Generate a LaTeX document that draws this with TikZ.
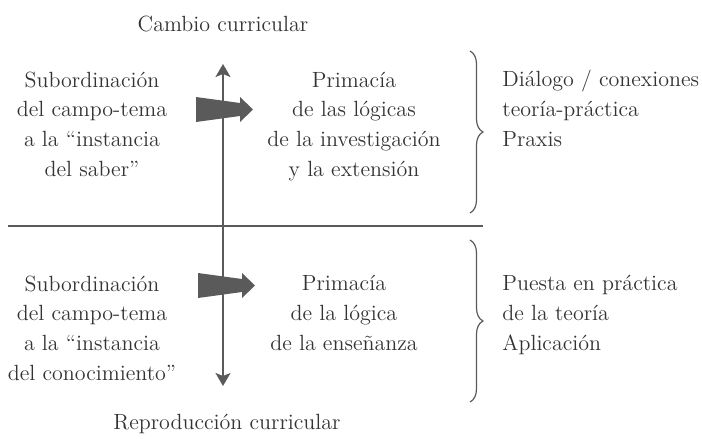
\documentclass[tikz,border=0pt]{standalone}
\usepackage{fontspec}
\usepackage{xcolor}
\usetikzlibrary{arrows.meta,decorations.pathreplacing}
\definecolor{tinta}{HTML}{333333}
\definecolor{trazo}{HTML}{5A5A5A}
\begin{document}
\begin{tikzpicture}[x=0.5pt,y=-0.5pt,
    texto/.style={inner sep=0pt,text=tinta,font=\fontsize{11}{14.8}\selectfont},
    bloque/.style={texto,anchor=base,align=center},
    lista/.style={texto,anchor=base west,align=left},
    llave/.style={draw=trazo,line width=0.6pt,decorate,decoration={brace,amplitude=6.5pt}},
    punta/.tip={Stealth[length=6.5pt,width=7.5pt,inset=1.5pt]},
    flecha/.style={fill=trazo}]
    \useasboundingbox (0,0) rectangle (702,439);
    \node[bloque] (cambio) at (223,32) {Cambio curricular};
    \node[bloque] (reprod) at (227,429) {Reproducción curricular};
    \node[bloque] (subsup) at (92,176) {Subordinación\\del campo-tema\\a la “instancia\\del saber”};
    \node[bloque] (primsup) at (354,176) {Primacía\\de las lógicas\\de la investigación\\y la extensión};
    \node[bloque] (subinf) at (92,380) {Subordinación\\del campo-tema\\a la “instancia\\del conocimiento”};
    \node[bloque] (priminf) at (344,350) {Primacía\\de la lógica\\de la enseñanza};
    \node[lista] (dialogo) at (502,146) {Diálogo / conexiones\\teoría-práctica\\Praxis};
    \node[lista] (puesta) at (502,350) {Puesta en práctica\\de la teoría\\Aplicación};
    \coordinate (vtop) at (223,64);
    \coordinate (vbot) at (223,386);
    \coordinate (hizq) at (8,226);
    \coordinate (hder) at (483,226);
    \coordinate (f1) at (196,109.5);
    \coordinate (f2) at (198,285.5);
    \draw[trazo,line width=0.65pt] (hizq) -- (hder);
    \draw[trazo,line width=0.75pt,punta-punta] (vtop) -- (vbot);
    \fill[flecha] (f1) ++(0,-12.5) -- ++(44,6) -- ++(0,-6) -- ++(13,12.5) -- ++(-13,12.5) -- ++(0,-6) -- ++(-44,6) -- cycle;
    \fill[flecha] (f2) ++(0,-12.5) -- ++(44,6) -- ++(0,-6) -- ++(13,12.5) -- ++(-13,12.5) -- ++(0,-6) -- ++(-44,6) -- cycle;
    \draw[llave] (470,51) -- (470,213);
    \draw[llave] (470,240) -- (470,402);
\end{tikzpicture}
\end{document}
